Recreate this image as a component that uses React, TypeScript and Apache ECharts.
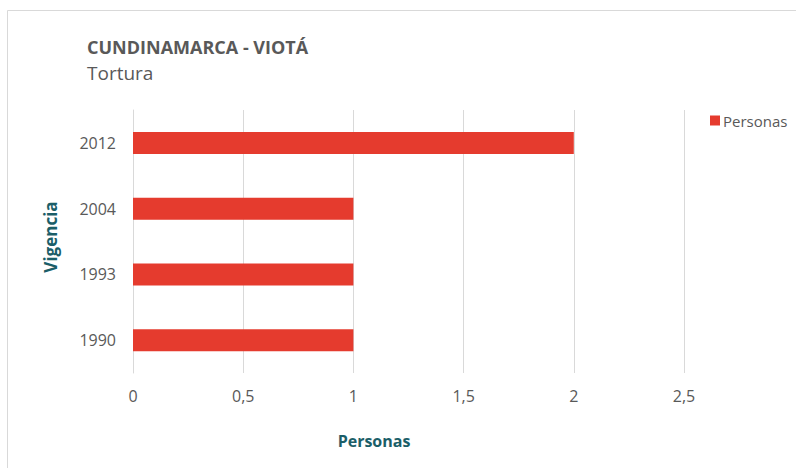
import React, { useEffect, useRef } from "react";
import * as echarts from "echarts";

const categories = ["1990", "1993", "2004", "2012"];
const personas = [1, 1, 1, 2];
const xTicks = { min: 0, max: 2.5, interval: 0.5 };

const FONT = "'Open Sans', 'Noto Sans', sans-serif";
const GRAY = "#595959";
const TEAL = "#1B5E68";

export default function App() {
  const ref = useRef<HTMLDivElement>(null);
  useEffect(() => {
    if (!ref.current) return;
    const chart = echarts.init(ref.current, null, { renderer: "svg" });
    chart.setOption({
      animation: false,
      backgroundColor: "#ffffff",
      textStyle: { fontFamily: FONT },
      title: [
        {
          text: "CUNDINAMARCA - VIOTÁ",
          left: 87,
          top: 38,
          padding: 0,
          textStyle: { fontFamily: FONT, fontSize: 18, fontWeight: "bold", color: GRAY },
        },
        {
          text: "Tortura",
          left: 87,
          top: 63,
          padding: 0,
          textStyle: { fontFamily: FONT, fontSize: 19, fontWeight: "normal", color: GRAY },
        },
      ],
      legend: {
        left: 705,
        top: 108,
        itemWidth: 10,
        itemHeight: 10,
        itemGap: 4,
        icon: "rect",
        textStyle: { fontFamily: FONT, fontSize: 15, color: GRAY, padding: [0, 0, 0, -2] },
        data: ["Personas"],
      },
      grid: { left: 133, right: 112, top: 110, bottom: 95, containLabel: false },
      xAxis: {
        type: "value",
        min: xTicks.min,
        max: xTicks.max,
        interval: xTicks.interval,
        axisLine: { show: false },
        axisTick: { show: false },
        splitLine: { show: true, lineStyle: { color: "#d9d9d9", width: 1 } },
        axisLabel: {
          color: GRAY,
          fontSize: 16,
          fontFamily: FONT,
          margin: 15,
          formatter: (v: number) => String(v).replace(".", ","),
        },
      },
      yAxis: {
        type: "category",
        data: categories,
        axisLine: { show: true, lineStyle: { color: "#d9d9d9", width: 1 } },
        axisTick: { show: false },
        axisLabel: { color: GRAY, fontSize: 16, fontFamily: FONT, margin: 17 },
      },
      series: [
        {
          name: "Personas",
          type: "bar",
          data: personas,
          barWidth: 22,
          itemStyle: { color: "#E53B2E" },
        },
      ],
      graphic: [
        {
          type: "rect",
          shape: { x: 7.5, y: 10.5, width: 900, height: 900 },
          style: { fill: "none", stroke: "#d9d9d9", lineWidth: 1 },
          silent: true,
        },
        {
          type: "text",
          x: 374,
          y: 441,
          style: {
            text: "Personas",
            fontFamily: FONT,
            fontSize: 16,
            fontWeight: "bold",
            fill: TEAL,
            align: "center",
            verticalAlign: "middle",
          },
        },
        {
          type: "text",
          x: 50,
          y: 237,
          rotation: Math.PI / 2,
          style: {
            text: "Vigencia",
            fontFamily: FONT,
            fontSize: 17,
            fontWeight: "bold",
            fill: TEAL,
            align: "center",
            verticalAlign: "middle",
          },
        },
      ],
    });
    return () => chart.dispose();
  }, []);
  return (
    <div
      ref={ref}
      style={{ position: "absolute", left: 0, top: 0, width: 796, height: 468 }}
    />
  );
}
